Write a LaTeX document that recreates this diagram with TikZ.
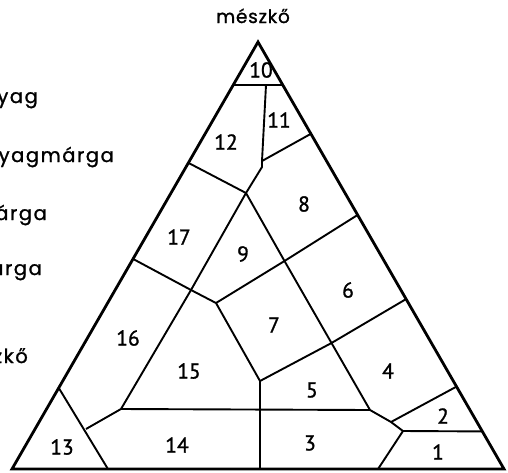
\documentclass[tikz,border=0pt]{standalone}
\usepackage{fontspec}
\newfontfamily\wordfont[LetterSpace=8,FakeBold=1.2]{Poppins}
\newfontfamily\topfont[LetterSpace=4,FakeBold=1.2]{Poppins}
\newfontfamily\numfont[FakeBold=1.2]{PT Sans}
\usetikzlibrary{calc}
\begin{document}
\begin{tikzpicture}[x=1pt,y=-1pt,
  outer/.style={line width=2.8pt,line join=miter},
  inner/.style={line width=1.9pt,line join=round},
  num/.style={font=\numfont\fontsize{21.5}{21.5}\selectfont,inner sep=0pt},
  word/.style={font=\wordfont\fontsize{19.5}{19.5}\selectfont,inner sep=0pt},
  topword/.style={font=\topfont\fontsize{18.5}{18.5}\selectfont,inner sep=0pt}]
\useasboundingbox (0,0) rectangle (508,472);
% corners
\coordinate (A) at (258,42);
\coordinate (L) at (12,469);
\coordinate (R) at (504,469);
% edge points
\coordinate (Ltop) at ($(A)!0.1!(L)$);
\coordinate (Rtop) at ($(A)!0.1!(R)$);
\coordinate (R11) at ($(A)!0.215!(R)$);
\coordinate (R86) at ($(A)!0.405!(R)$);
\coordinate (R64) at ($(A)!0.602!(R)$);
\coordinate (R42) at ($(A)!0.807!(R)$);
\coordinate (R21) at ($(A)!0.912!(R)$);
\coordinate (L1217) at ($(A)!0.283!(L)$);
\coordinate (L1716) at ($(A)!0.508!(L)$);
\coordinate (L1613) at ($(A)!0.81!(L)$);
\coordinate (B13) at ($(L)!0.195!(R)$);
\coordinate (B143) at ($(L)!0.504!(R)$);
\coordinate (B31) at ($(L)!0.744!(R)$);
% inner points
\coordinate (P10) at (266,85);
\coordinate (K1) at (262,161);
\coordinate (K2) at (262,167);
\coordinate (J1) at (246,193);
\coordinate (J2) at (284.5,261);
\coordinate (J3) at (331.5,343);
\coordinate (J4) at (370,410);
\coordinate (J5) at (391,422);
\coordinate (J6) at (403,431);
\coordinate (J7) at (191,290);
\coordinate (J8) at (121,409);
\coordinate (J9) at (216,303);
\coordinate (J10) at (260,381);
\coordinate (J11) at (86,429);
% inner lines
\draw[inner] (Ltop) -- (Rtop);
\draw[inner] (P10) -- (K1) -- (K2) -- (J1);
\draw[inner] (K1) -- (R11);
\draw[inner] (L1217) -- (J1);
\draw[inner] (J1) -- (J2) -- (J3) -- (J4) -- (J5) -- (J6);
\draw[inner] (J1) -- (J7) -- (J8);
\draw[inner] (L1716) -- (J7) -- (J9);
\draw[inner] (J9) -- (J2) -- (R86);
\draw[inner] (J9) -- (J10);
\draw[inner] (J10) -- (J3) -- (R64);
\draw[inner] (J10) -- (B143);
\draw[inner] (J8) -- (J4);
\draw[inner] (J8) -- (J11);
\draw[inner] (L1613) -- (B13);
\draw[inner] (J5) -- (R42);
\draw[inner] (J6) -- (R21);
\draw[inner] (J6) -- (B31);
% outer triangle
\draw[outer] (A) -- (L) -- (R) -- cycle;
% region numbers
\node[num] (n10) at (261,70) {10};
\node[num] (n11) at (279,120) {11};
\node[num] (n12) at (226,142) {12};
\node[num] (n8) at (304,204) {8};
\node[num] (n9) at (243,254) {9};
\node[num] (n17) at (179,237) {17};
\node[num] (n16) at (128,338) {16};
\node[num] (n15) at (189,371) {15};
\node[num] (n7) at (274,325) {7};
\node[num] (n6) at (348,290) {6};
\node[num] (n4) at (388,371) {4};
\node[num] (n5) at (312,390) {5};
\node[num] (n2) at (443,416) {2};
\node[num] (n3) at (310,443) {3};
\node[num] (n1) at (438,452) {1};
\node[num] (n14) at (177,445) {14};
\node[num] (n13) at (62,447) {13};
% words
\node[topword,anchor=base] (top) at (253,23) {mészkő};
\node[word,anchor=base east] (w1) at (38,103) {yag};
\node[word,anchor=base east] (w2) at (114,162) {yagmárga};
\node[word,anchor=base east] (w3) at (47,220) {árga};
\node[word,anchor=base east] (w4) at (42,275) {árga};
\node[word,anchor=base east] (w5) at (28,363) {zkő};
\end{tikzpicture}
\end{document}
